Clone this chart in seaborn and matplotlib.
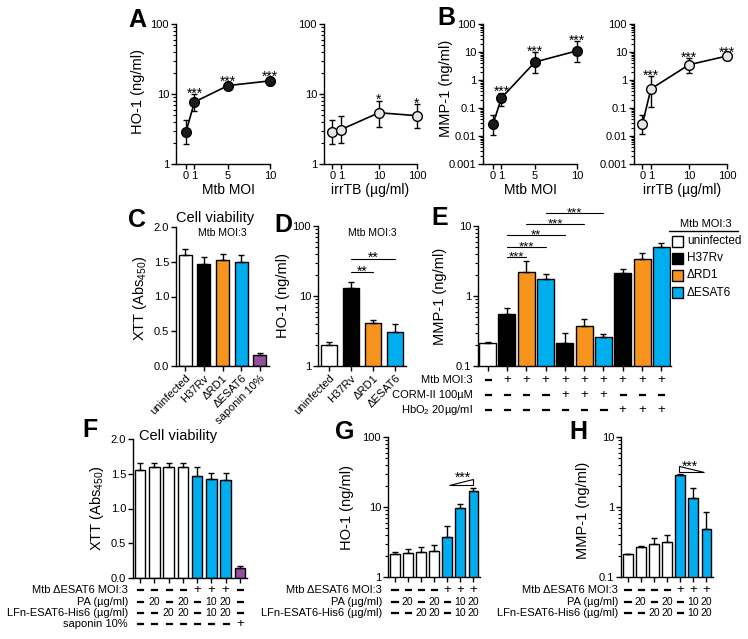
import numpy as np
import pandas as pd
import matplotlib
matplotlib.use("Agg")
import matplotlib.pyplot as plt
import matplotlib.transforms as mtransforms
import matplotlib.patheffects as pe
from matplotlib.patches import Polygon, Rectangle
from matplotlib.lines import Line2D
from matplotlib.ticker import LogLocator, NullLocator
import seaborn as sns

sns.set_style("ticks")
plt.rcParams["font.family"] = ["Liberation Sans", "DejaVu Sans"]
plt.rcParams["mathtext.default"] = "regular"
for k in ["axes.edgecolor", "xtick.color", "ytick.color", "text.color", "axes.labelcolor"]:
    plt.rcParams[k] = "black"

WHITE, BLACK, ORANGE, BLUE, PURPLE = "#ffffff", "#000000", "#f7941d", "#00aeef", "#964f9e"

# ---------------- data ----------------
# A  HO-1 vs dose
mtb_moi = [0, 1, 5, 10]
ho1_mtb = [2.9, 7.7, 13.2, 15.4]
ho1_mtb_lo = [1.9, 5.8, 12.0, 13.4]
ho1_mtb_hi = [4.2, 10.0, 14.6, 17.5]
ho1_mtb_sig = ["", "***", "***", "***"]

irrtb_dose = [0, 1, 10, 100]
ho1_irr = [2.9, 3.1, 5.4, 4.9]
ho1_irr_lo = [1.9, 2.0, 3.4, 3.3]
ho1_irr_hi = [4.2, 4.8, 8.0, 7.2]
ho1_irr_sig = ["", "", "*", "*"]

# B  MMP-1 vs dose
mmp1_mtb = [0.027, 0.23, 4.4, 11.0]
mmp1_mtb_lo = [0.011, 0.12, 1.8, 4.4]
mmp1_mtb_hi = [0.056, 0.35, 10.0, 24.0]
mmp1_mtb_sig = ["", "***", "***", "***"]

mmp1_irr = [0.027, 0.48, 3.5, 7.2]
mmp1_irr_lo = [0.012, 0.11, 1.8, 5.2]
mmp1_irr_hi = [0.056, 1.4, 6.1, 8.9]
mmp1_irr_sig = ["", "***", "***", "***"]

# C  cell viability
c_labels = ["uninfected", "H37Rv", "ΔRD1", "ΔESAT6", "saponin 10%"]
c_xtt = [1.59, 1.47, 1.53, 1.50, 0.16]
c_xtt_hi = [1.69, 1.57, 1.61, 1.60, 0.19]
c_colors = [WHITE, BLACK, ORANGE, BLUE, PURPLE]

# D  HO-1
d_labels = ["uninfected", "H37Rv", "ΔRD1", "ΔESAT6"]
d_ho1 = [2.0, 13.0, 4.1, 3.1]
d_ho1_hi = [2.2, 15.8, 4.5, 4.0]
d_colors = [WHITE, BLACK, ORANGE, BLUE]

# E  MMP-1 with CORM-II / HbO2
e_mmp1 = [0.21, 0.55, 2.2, 1.75, 0.21, 0.37, 0.26, 2.1, 3.4, 5.0]
e_mmp1_hi = [0.22, 0.67, 3.2, 2.05, 0.30, 0.47, 0.29, 2.45, 4.1, 5.7]
e_colors = [WHITE, BLACK, ORANGE, BLUE, BLACK, ORANGE, BLUE, BLACK, ORANGE, BLUE]
e_mtb = ["-", "+", "+", "+", "+", "+", "+", "+", "+", "+"]
e_corm = ["-", "-", "-", "-", "+", "+", "+", "-", "-", "-"]
e_hbo2 = ["-", "-", "-", "-", "-", "-", "-", "+", "+", "+"]
legend_labels = ["uninfected", "H37Rv", "ΔRD1", "ΔESAT6"]

# F  cell viability with PA / LFn-ESAT6
f_xtt = [1.55, 1.59, 1.59, 1.59, 1.47, 1.42, 1.41, 0.14]
f_xtt_hi = [1.65, 1.66, 1.66, 1.66, 1.60, 1.51, 1.51, 0.17]
f_colors = [WHITE] * 4 + [BLUE] * 3 + [PURPLE]
f_mtb = ["-", "-", "-", "-", "+", "+", "+", "-"]
f_pa = ["-", "20", "-", "20", "-", "10", "20", "-"]
f_lfn = ["-", "-", "20", "20", "-", "10", "20", "-"]
f_sap = ["-", "-", "-", "-", "-", "-", "-", "+"]

# G / H
g_ho1 = [2.13, 2.2, 2.25, 2.35, 3.7, 9.7, 17.0]
g_ho1_hi = [2.3, 2.5, 2.7, 2.86, 5.35, 11.0, 18.7]
h_mmp1 = [0.213, 0.27, 0.30, 0.32, 2.87, 1.35, 0.49]
h_mmp1_hi = [0.216, 0.28, 0.36, 0.40, 3.0, 1.87, 0.85]
gh_colors = [WHITE] * 4 + [BLUE] * 3
gh_mtb = ["-", "-", "-", "-", "+", "+", "+"]
gh_pa = ["-", "20", "-", "20", "-", "10", "20"]
gh_lfn = ["-", "-", "20", "20", "-", "10", "20"]

# ---------------- figure ----------------
W, H = 748, 639
fig = plt.figure(figsize=(W / 100, H / 100), dpi=100)
THICK = [pe.withStroke(linewidth=0.9, foreground="black")]


def new_ax(x0, y0, x1, y1):
    ax = fig.add_axes([x0 / W, 1 - y1 / H, (x1 - x0) / W, (y1 - y0) / H])
    ax.spines[["top", "right"]].set_visible(False)
    for s in ["left", "bottom"]:
        ax.spines[s].set_linewidth(1.0)
    ax.tick_params(direction="out", length=3.5, width=1.0, labelsize=8, pad=1.5)
    ax.tick_params(which="minor", length=2, width=0.8)
    return ax


def ftext(x, y, s, **kw):
    kw.setdefault("ha", "center")
    kw.setdefault("va", "center")
    return fig.text(x / W, 1 - y / H, s, **kw)


def log_y(ax, lo, hi, ticks):
    ax.set_yscale("log")
    ax.set_ylim(lo, hi)
    ax.set_yticks(ticks)
    ax.set_yticklabels([f"{t:g}" for t in ticks])
    ax.yaxis.set_minor_locator(LogLocator(base=10, subs=np.arange(2, 10), numticks=100))


def dose_panel(rect, x, y, lo, hi, sig, face, irr, ylim, yticks):
    ax = new_ax(*rect)
    y, lo, hi = np.array(y), np.array(lo), np.array(hi)
    ax.errorbar(x, y, yerr=[y - lo, hi - y], fmt="none", ecolor="black",
                elinewidth=1.0, capsize=2.2, capthick=1.0, zorder=2)
    df = pd.DataFrame({"x": x, "y": y})
    sns.lineplot(data=df, x="x", y="y", ax=ax, color="black", lw=1.2, marker="o",
                 markersize=7, markerfacecolor=face, markeredgecolor="black",
                 markeredgewidth=1.0, zorder=3)
    for art in ax.lines + ax.collections:
        art.set_clip_on(False)
    for xi, hv, s in zip(x, hi, sig):
        if s:
            ax.annotate(s, (xi, hv), xytext=(0, -2.5), textcoords="offset points",
                        ha="center", va="baseline", fontsize=10, annotation_clip=False)
    if irr:
        ax.set_xscale("symlog", linthresh=1, linscale=0.2)
        ax.set_xlim(-1, 100)
    else:
        ax.set_xlim(-1.2, 10)
    ax.set_xticks(x)
    ax.set_xticklabels([str(v) for v in x])
    ax.xaxis.set_minor_locator(NullLocator())
    log_y(ax, ylim[0], ylim[1], yticks)
    ax.set_xlabel("")
    ax.set_ylabel("")
    return ax


def bar_panel(rect, vals, his, colors, width):
    ax = new_ax(*rect)
    df = pd.DataFrame({"cond": [str(i) for i in range(len(vals))], "val": vals})
    sns.barplot(data=df, x="cond", y="val", hue="cond", palette=colors, width=width,
                edgecolor="black", linewidth=1.0, saturation=1, legend=False, ax=ax)
    v, h = np.array(vals), np.array(his)
    ax.errorbar(np.arange(len(v)), v, yerr=[np.zeros_like(v), h - v], fmt="none",
                ecolor="black", elinewidth=1.0, capsize=2.2, capthick=1.0, zorder=3)
    ax.set_xlim(-0.5, len(v) - 0.5)
    ax.set_xticks(np.arange(len(v)))
    ax.set_xticklabels([])
    ax.set_xlabel("")
    ax.set_ylabel("")
    return ax


def lin_y(ax):
    ax.set_ylim(0, 2.0)
    ax.set_yticks([0, 0.5, 1.0, 1.5, 2.0])
    ax.set_yticklabels(["0.0", "0.5", "1.0", "1.5", "2.0"])


def draw_rows(ax, labels, rows, ys, label_x):
    tr = mtransforms.blended_transform_factory(ax.transData, fig.transFigure)
    for lab, row, y in zip(labels, rows, ys):
        ftext(label_x, y, lab, ha="right", fontsize=8)
        for i, v in enumerate(row):
            if v == "-":
                ax.text(i, 1 - y / H, "–", transform=tr, ha="center", va="center",
                        fontsize=9, fontweight="bold", clip_on=False, path_effects=THICK)
            elif v == "+":
                ax.text(i, 1 - y / H, "+", transform=tr, ha="center", va="center",
                        fontsize=9.5, clip_on=False)
            else:
                ax.text(i, 1 - y / H, v, transform=tr, ha="center", va="center",
                        fontsize=7.5, clip_on=False)


def sig_line(ax, i, j, yv, s, size=10):
    ax.plot([i, j], [yv, yv], color="black", lw=0.8, clip_on=False)
    ax.annotate(s, ((i + j) / 2, yv), xytext=(0, -2.5), textcoords="offset points",
                ha="center", va="baseline", fontsize=size, annotation_clip=False)


# A
dose_panel((176, 24, 270, 164), mtb_moi, ho1_mtb, ho1_mtb_lo, ho1_mtb_hi, ho1_mtb_sig,
           "#1a1a1a", False, (1, 100), [1, 10, 100])
dose_panel((324, 24, 417, 164), irrtb_dose, ho1_irr, ho1_irr_lo, ho1_irr_hi, ho1_irr_sig,
           "#e6e6e6", True, (1, 100), [1, 10, 100])
# B
dose_panel((483, 24, 577, 164), mtb_moi, mmp1_mtb, mmp1_mtb_lo, mmp1_mtb_hi, mmp1_mtb_sig,
           "#1a1a1a", False, (0.001, 100), [0.001, 0.01, 0.1, 1, 10, 100])
dose_panel((634, 24, 727, 164), irrtb_dose, mmp1_irr, mmp1_irr_lo, mmp1_irr_hi, mmp1_irr_sig,
           "#e6e6e6", True, (0.001, 100), [0.001, 0.01, 0.1, 1, 10, 100])

ftext(137, 20, "A", fontsize=18, fontweight="bold")
ftext(446, 18, "B", fontsize=18, fontweight="bold")
ftext(138, 92, "HO-1 (ng/ml)", rotation=90, fontsize=10.5)
ftext(446, 88, "MMP-1 (ng/ml)", rotation=90, fontsize=10.5)
for xc, s in [(228, "Mtb MOI"), (370, "irrTB (µg/ml)"), (530, "Mtb MOI"), (682, "irrTB (µg/ml)")]:
    ftext(xc, 190, s, fontsize=10)

# C
axC = bar_panel((176, 227, 269, 366), c_xtt, c_xtt_hi, c_colors, 0.7)
lin_y(axC)
axC.set_xticklabels(c_labels, rotation=45, ha="right", rotation_mode="anchor", fontsize=8)
ftext(137, 220, "C", fontsize=18, fontweight="bold")
ftext(215, 218, "Cell viability", fontsize=10.5)
ftext(222, 233, "Mtb MOI:3", fontsize=7.5)
ftext(140, 298, "XTT (Abs$_{450}$)", rotation=90, fontsize=10.5)

# D
axD = bar_panel((318, 226, 406, 366), d_ho1, d_ho1_hi, d_colors, 0.73)
log_y(axD, 1, 100, [1, 10, 100])
axD.set_xticklabels(d_labels, rotation=45, ha="right", rotation_mode="anchor", fontsize=8)
sig_line(axD, 1, 2, 22, "**")
sig_line(axD, 1, 3, 34, "**")
ftext(283, 225, "D", fontsize=18, fontweight="bold")
ftext(372, 233, "Mtb MOI:3", fontsize=7.5)
ftext(283, 296, "HO-1 (ng/ml)", rotation=90, fontsize=10.5)

# E
axE = bar_panel((478, 226, 671, 366), e_mmp1, e_mmp1_hi, e_colors, 0.88)
log_y(axE, 0.1, 10, [0.1, 1, 10])
for i, j, yv, s in [(1, 2, 3.6, "***"), (1, 3, 5.0, "***"), (1, 4, 7.4, "**"),
                    (2, 5, 10.7, "***"), (3, 6, 15.4, "***")]:
    sig_line(axE, i, j, yv, s, size=9.5)
draw_rows(axE, ["Mtb MOI:3", "CORM-II 100µM", "HbO$_2$ 20µg/ml"],
          [e_mtb, e_corm, e_hbo2], [380, 395, 410], 473)
ftext(440, 218, "E", fontsize=18, fontweight="bold")
ftext(440, 296, "MMP-1 (ng/ml)", rotation=90, fontsize=10.5)
# legend
ftext(706, 224, "Mtb MOI:3", fontsize=8)
fig.add_artist(Line2D([669 / W, 738 / W], [1 - 231 / H, 1 - 231 / H], color="black", lw=1.0))
for k, (lab, col) in enumerate(zip(legend_labels, [WHITE, BLACK, ORANGE, BLUE])):
    yc = 241.5 + k * 17
    fig.add_artist(Rectangle((672 / W, 1 - (yc + 5.5) / H), 11 / W, 11 / H,
                             facecolor=col, edgecolor="black", lw=1.0,
                             transform=fig.transFigure))
    ftext(687, yc, lab, ha="left", fontsize=8.5)

# F
axF = bar_panel((133, 439, 247, 578), f_xtt, f_xtt_hi, f_colors, 0.75)
lin_y(axF)
draw_rows(axF, ["Mtb ΔESAT6 MOI:3", "PA (µg/ml)", "LFn-ESAT6-His6 (µg/ml)", "saponin 10%"],
          [f_mtb, f_pa, f_lfn, f_sap], [590, 602, 613, 624], 128)
ftext(90, 430, "F", fontsize=18, fontweight="bold")
ftext(178, 436, "Cell viability", fontsize=10.5)
ftext(97, 508, "XTT (Abs$_{450}$)", rotation=90, fontsize=10.5)

# G
axG = bar_panel((388, 437, 480, 577), g_ho1, g_ho1_hi, gh_colors, 0.75)
log_y(axG, 1, 100, [1, 10, 100])
draw_rows(axG, ["Mtb ΔESAT6 MOI:3", "PA (µg/ml)", "LFn-ESAT6-His6 (µg/ml)"],
          [gh_mtb, gh_pa, gh_lfn], [590, 602, 613], 382)
axG.add_patch(Polygon([(4.15, 20.6), (6.0, 20.6), (6.0, 25.0)], closed=True,
                      facecolor="white", edgecolor="black", lw=0.8, clip_on=False))
axG.text(5.2, 22.8, "***", ha="center", va="baseline", fontsize=10)
ftext(345, 432, "G", fontsize=18, fontweight="bold")
ftext(347, 508, "HO-1 (ng/ml)", rotation=90, fontsize=10.5)

# H
axH = bar_panel((621, 437, 713, 577), h_mmp1, h_mmp1_hi, gh_colors, 0.75)
log_y(axH, 0.1, 10, [0.1, 1, 10])
draw_rows(axH, ["Mtb ΔESAT6 MOI:3", "PA (µg/ml)", "LFn-ESAT6-His6 (µg/ml)"],
          [gh_mtb, gh_pa, gh_lfn], [590, 602, 613], 618)
axH.add_patch(Polygon([(3.95, 3.85), (3.95, 3.16), (5.85, 3.16)], closed=True,
                      facecolor="white", edgecolor="black", lw=0.8, clip_on=False))
axH.text(4.75, 3.27, "***", ha="center", va="baseline", fontsize=10)
ftext(578, 432, "H", fontsize=18, fontweight="bold")
ftext(583, 510, "MMP-1 (ng/ml)", rotation=90, fontsize=10.5)

fig.savefig("out.png", dpi=100)
